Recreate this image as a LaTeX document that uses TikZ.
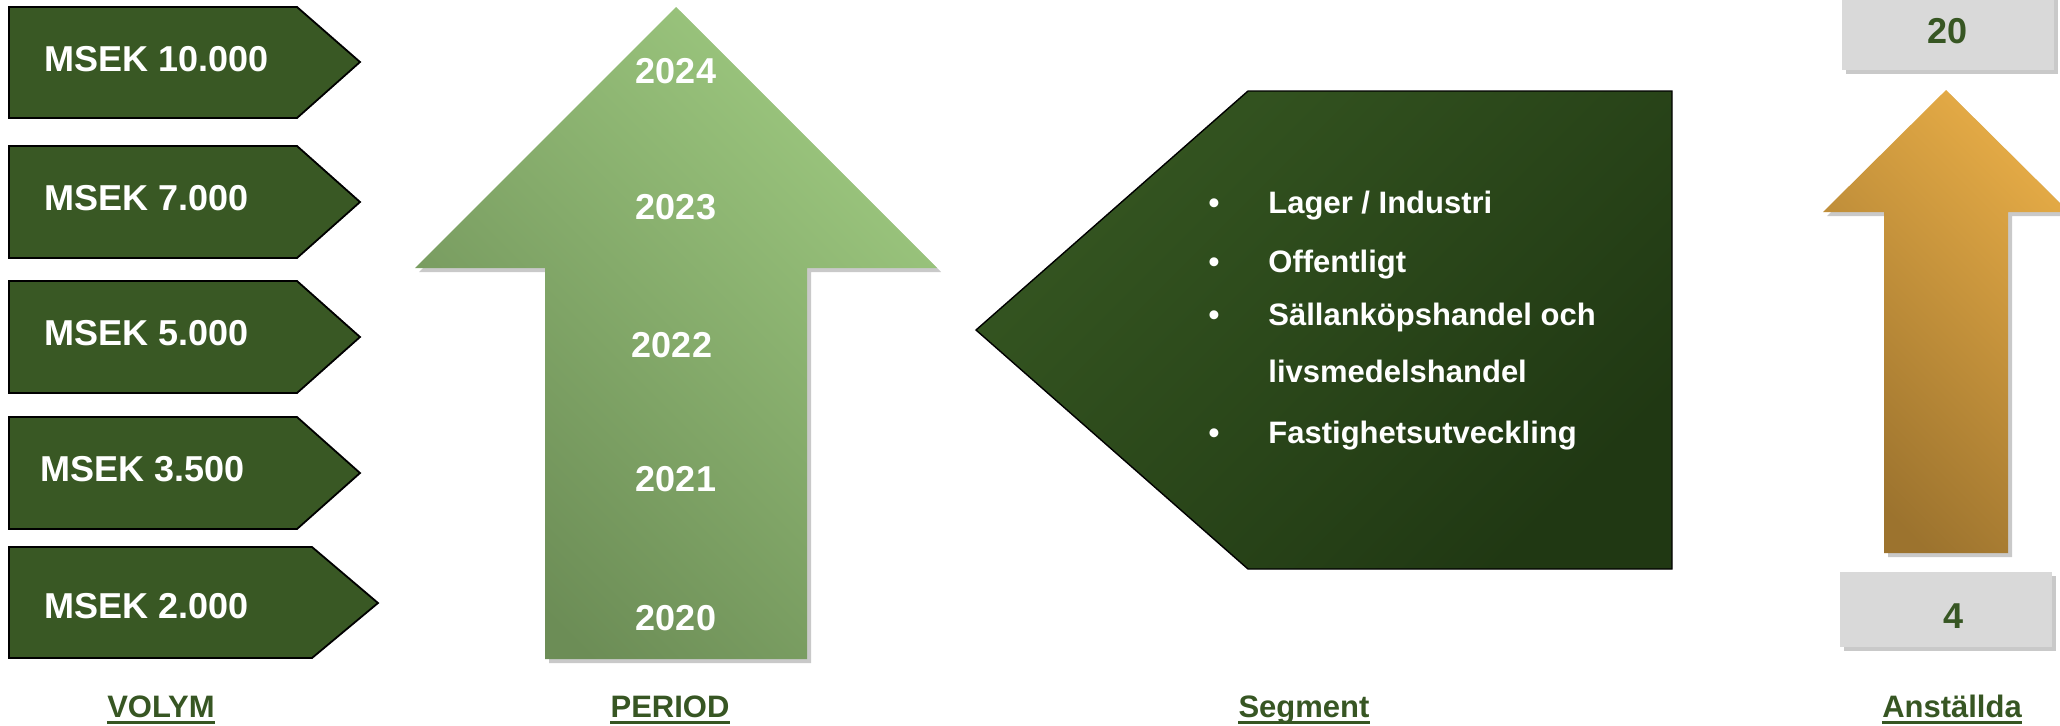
\documentclass[tikz,border=0pt]{standalone}
\usepackage{fontspec}
\setmainfont{Liberation Sans}
\usetikzlibrary{shadows}
\definecolor{dkgreen}{RGB}{55,86,35}
\definecolor{volfill}{RGB}{57,88,36}
\definecolor{perlight}{RGB}{157,200,127}
\definecolor{perdark}{RGB}{108,141,86}
\definecolor{seglight}{RGB}{53,86,33}
\definecolor{segdark}{RGB}{32,56,19}
\definecolor{orlight}{RGB}{229,171,70}
\definecolor{ordark}{RGB}{156,115,46}
\definecolor{greybox}{RGB}{217,217,217}
\tikzset{
  vbox/.style={fill=volfill, draw=black, line width=0.9pt, line join=miter},
  vtxt/.style={text=white, inner sep=0pt, anchor=base west, font=\bfseries\fontsize{18}{21}\selectfont},
  yeartxt/.style={text=white, inner sep=0pt, anchor=base, font=\bfseries\fontsize{18}{21}\selectfont},
  segtxt/.style={text=white, inner sep=0pt, anchor=base west, font=\bfseries\fontsize{15.5}{18}\selectfont},
  segbul/.style={text=white, inner sep=0pt, anchor=base, font=\bfseries\fontsize{15.5}{18}\selectfont},
  numtxt/.style={text=dkgreen, inner sep=0pt, anchor=base, font=\bfseries\fontsize{18}{21}\selectfont},
  lbltxt/.style={text=dkgreen, inner sep=0pt, anchor=base, font=\bfseries\fontsize{15.5}{18}\selectfont},
  shad/.style={drop shadow={shadow xshift=2pt, shadow yshift=-2pt, opacity=0.3, fill=black!70}},
}
\begin{document}
\begin{tikzpicture}[x=0.5pt,y=-0.5pt]
\useasboundingbox (0,0) rectangle (2060,725);

% ---- VOLYM column ----
\path[vbox] (9,7) -- (297,7) -- (360,62) -- (297,118) -- (9,118) -- cycle;
\path[vbox] (9,146) -- (297,146) -- (360,202) -- (297,258) -- (9,258) -- cycle;
\path[vbox] (9,281) -- (297,281) -- (360,337) -- (297,393) -- (9,393) -- cycle;
\path[vbox] (9,417) -- (297,417) -- (360,473) -- (297,529) -- (9,529) -- cycle;
\path[vbox] (9,547) -- (312,547) -- (378,603) -- (312,658) -- (9,658) -- cycle;
\node[vtxt] (v1) at (44,71) {MSEK 10.000};
\node[vtxt] (v2) at (44,210) {MSEK 7.000};
\node[vtxt] (v3) at (44,345) {MSEK 5.000};
\node[vtxt] (v4) at (40,481) {MSEK 3.500};
\node[vtxt] (v5) at (44,618) {MSEK 2.000};

% ---- PERIOD arrow ----
\path[shad, top color=perlight, bottom color=perdark, shading angle=-45]
  (676,7) -- (937,268) -- (807,268) -- (807,659) -- (545,659) -- (545,268) -- (415,268) -- cycle;
\node[yeartxt] (y24) at (676,83) {2024};
\node[yeartxt] (y23) at (676,219) {2023};
\node[yeartxt] (y22) at (672,357) {2022};
\node[yeartxt] (y21) at (676,491) {2021};
\node[yeartxt] (y20) at (676,630) {2020};

% ---- Segment ----
\path[draw=black, line width=0.7pt, top color=seglight, bottom color=segdark, shading angle=45]
  (976,330) -- (1248,91) -- (1672,91) -- (1672,569) -- (1248,569) -- cycle;
\node[segbul] (b1) at (1214,213) {•};
\node[segbul] (b2) at (1214,272) {•};
\node[segbul] (b3) at (1214,325) {•};
\node[segbul] (b5) at (1214,443) {•};
\node[segtxt] (s1) at (1268,213) {Lager / Industri};
\node[segtxt] (s2) at (1268,272) {Offentligt};
\node[segtxt] (s3) at (1268,325) {Sällanköpshandel och};
\node[segtxt] (s4) at (1268,382) {livsmedelshandel};
\node[segtxt] (s5) at (1268,443) {Fastighetsutveckling};

% ---- Anställda ----
\path[shad, fill=greybox] (1842,-6) rectangle (2054,70);
\path[shad, fill=greybox] (1840,572) rectangle (2052,647);
\path[shad, top color=orlight, bottom color=ordark, shading angle=-45]
  (1946,90) -- (2069,212) -- (2008,212) -- (2008,553) -- (1884,553) -- (1884,212) -- (1823,212) -- cycle;
\node[numtxt] (n20) at (1947,43) {20};
\node[numtxt] (n4) at (1953,628) {4};

% ---- Labels ----
\node[lbltxt] (l1) at (161,717) {VOLYM};
\node[lbltxt] (l2) at (670,717) {PERIOD};
\node[lbltxt] (l3) at (1304,717) {Segment};
\node[lbltxt] (l4) at (1952,717) {Anställda};
\foreach \n in {l1,l2,l3,l4}{
  \draw[dkgreen, line width=1.3pt] ([yshift=-2.6pt]\n.base west) -- ([yshift=-2.6pt]\n.base east);
}
\end{tikzpicture}
\end{document}
